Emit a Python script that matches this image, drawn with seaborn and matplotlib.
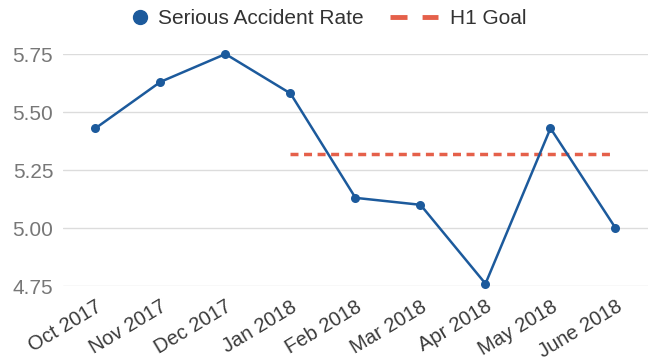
import matplotlib
matplotlib.use("Agg")
import matplotlib.pyplot as plt
import seaborn as sns
import pandas as pd
from matplotlib.lines import Line2D

months = ["Oct 2017", "Nov 2017", "Dec 2017", "Jan 2018", "Feb 2018",
          "Mar 2018", "Apr 2018", "May 2018", "June 2018"]
accident_rate = [5.43, 5.63, 5.75, 5.58, 5.13, 5.10, 4.76, 5.43, 5.00]
goal_months = ["Jan 2018", "Feb 2018", "Mar 2018", "Apr 2018", "May 2018", "June 2018"]
goal_value = 5.32
y_ticks = [4.75, 5.00, 5.25, 5.50, 5.75]

sns.set_theme(style="white")
plt.rcParams["font.family"] = ["Liberation Sans", "DejaVu Sans"]

blue = "#1c5a9c"
red = "#e5604a"

df = pd.DataFrame({"x": range(len(months)), "rate": accident_rate})
goal_idx = [months.index(m) for m in goal_months]
goal_df = pd.DataFrame({"x": goal_idx, "goal": [goal_value] * len(goal_idx)})

fig = plt.figure(figsize=(6.48, 3.63), dpi=100)
ax = fig.add_axes([0.0972, 0.2121, 0.9028, 0.6391])

ax.set_yticks(y_ticks)
ax.grid(axis="y", color="#dcdcdc", linewidth=1.0)
ax.set_axisbelow(True)

sns.lineplot(data=goal_df, x="x", y="goal", ax=ax, color=red, linewidth=2.5,
             linestyle=(0, (2.3, 1.6)), zorder=2)
sns.lineplot(data=df, x="x", y="rate", ax=ax, color=blue, linewidth=1.8,
             marker="o", markersize=6.5, markeredgewidth=0, zorder=3, clip_on=False)

ax.set_xlim(-0.5, 8.5)
ax.set_ylim(4.75, 5.75)
ax.set_xticks(range(len(months)))
ax.set_xticklabels(months, rotation=31, ha="right", rotation_mode="anchor",
                   fontsize=14.5, color="#3a3a3a")
ax.set_yticklabels([f"{v:.2f}" for v in y_ticks], fontsize=15, color="#777777")
ax.tick_params(axis="x", length=0, pad=8)
ax.tick_params(axis="y", length=0, pad=7)
ax.set_xlabel("")
ax.set_ylabel("")
for s in ax.spines.values():
    s.set_visible(False)

# two-entry legend across the top, each entry with its own handle width
rate_handle = Line2D([], [], color=blue, marker="o", linestyle="none", markersize=10)
goal_handle = Line2D([], [], color=red, linestyle=(0, (3.5, 3.1)), linewidth=3.5)
common = dict(loc="center left", frameon=False, fontsize=15, labelcolor="#333333",
              borderpad=0, borderaxespad=0)
leg1 = fig.legend([rate_handle], ["Serious Accident Rate"],
                  bbox_to_anchor=(0.200, 0.949), handlelength=1.0,
                  handletextpad=0.36, **common)
leg2 = fig.legend([goal_handle], ["H1 Goal"],
                  bbox_to_anchor=(0.602, 0.949), handlelength=2.3,
                  handletextpad=0.58, **common)

fig.savefig("out.png", dpi=100)
